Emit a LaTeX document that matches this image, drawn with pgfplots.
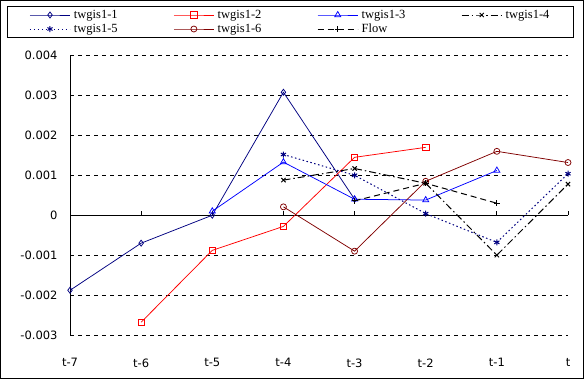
\documentclass[border=0pt]{standalone}
\usepackage{fontspec}
\setmainfont{DejaVu Sans}
\newfontfamily\legfont{Liberation Serif}
\usepackage{pgfplots}
\pgfplotsset{compat=1.18}
\definecolor{navy}{RGB}{0,0,128}
\definecolor{dred}{RGB}{128,0,0}
\begin{document}
\begin{tikzpicture}
\useasboundingbox (0bp,0bp) rectangle (584bp,-379bp);
\draw[line width=1bp] (0.5bp,-0.5bp) rectangle (583.5bp,-378.5bp);
\begin{axis}[
  at={(70bp,-335bp)}, anchor=south west,
  scale only axis, width=498bp, height=279.5bp,
  xmin=0, xmax=7, ymin=-0.003, ymax=0.004,
  axis lines*=left,
  x axis line style={draw=none},
  y axis line style={line width=1bp},
  scaled y ticks=false,
  xtick={0,...,7},
  xticklabels={t-7,t-6,t-5,t-4,t-3,t-2,t-1,t},
  ytick={-0.003,-0.002,-0.001,0,0.001,0.002,0.003,0.004},
  yticklabels={-0.003,-0.002,-0.001,0,0.001,0.002,0.003,0.004},
  major tick length=0pt,
  tick style={draw=none},
  ymajorgrids,
  grid style={black, line width=0.8bp, dash pattern=on 4bp off 4bp},
  ticklabel style={font=\fontsize{11.5bp}{14bp}\selectfont},
  xticklabel style={yshift=-20bp},
  yticklabel style={xshift=-9bp},
  clip=false,
  legend columns=4,
  legend style={at={(-63bp,329bp)}, anchor=north west, draw=black, line width=1bp,
    font=\legfont\fontsize{12.5bp}{14bp}\selectfont,
    inner xsep=22bp, inner ysep=2bp,
    nodes={inner sep=0.5bp, text height=9bp, text depth=3bp, text width=45bp, align=left},
    /tikz/every odd column/.append style={column sep=3bp},
    /tikz/every even column/.append style={column sep=54bp},
    row sep=1bp},
  legend cell align=left,
  legend image code/.code={\draw[mark repeat=2,mark phase=2,#1] plot coordinates {(0bp,0bp) (20bp,0bp) (40bp,0bp)};},
]
\draw[line width=1bp] (axis cs:0,0) -- (axis cs:7,0);
\pgfplotsinvokeforeach{1,...,7}{\draw[line width=0.8bp] (axis cs:#1,0) -- (axis cs:#1,0.0001);}
\addplot[navy, line width=0.75bp, mark=diamond, mark size=3bp, mark options={solid, fill=white}]
  coordinates {(0,-0.00188) (1,-0.0007) (2,0.0) (3,0.00308) (4,0.0004)};
\addlegendentry{twgis1-1}
\addplot[red, line width=0.75bp, mark=square, mark size=3.2bp, mark options={solid, fill=white}]
  coordinates {(1,-0.00268) (2,-0.00088) (3,-0.00028) (4,0.00145) (5,0.0017)};
\addlegendentry{twgis1-2}
\addplot[blue, line width=0.75bp, mark=triangle, mark size=3.5bp, mark options={solid, fill=white}]
  coordinates {(2,0.0001) (3,0.00133) (4,0.0004) (5,0.00038) (6,0.00112)};
\addlegendentry{twgis1-3}
\addplot[black, line width=1bp, dash pattern=on 7bp off 3bp on 1.5bp off 3bp, mark=x, mark size=3bp, mark options={solid}]
  coordinates {(3,0.00088) (4,0.00117) (5,0.0008) (6,-0.001) (7,0.00078)};
\addlegendentry{twgis1-4}
\addplot[navy, line width=1bp, dash pattern=on 1.5bp off 2.5bp, mark=asterisk, mark size=3bp, mark options={solid}]
  coordinates {(3,0.00152) (4,0.001) (5,0.00004) (6,-0.00068) (7,0.00104)};
\addlegendentry{twgis1-5}
\addplot[dred, line width=0.75bp, mark=o, mark size=3bp, mark options={solid, fill=white}]
  coordinates {(3,0.00021) (4,-0.0009) (5,0.00085) (6,0.0016) (7,0.00132)};
\addlegendentry{twgis1-6}
\addplot[black, line width=1bp, dash pattern=on 6bp off 4bp, mark=+, mark size=3bp, mark options={solid}]
  coordinates {(4,0.00036) (5,0.0008) (6,0.0003)};
\addlegendentry{Flow}
\end{axis}
\end{tikzpicture}
\end{document}
